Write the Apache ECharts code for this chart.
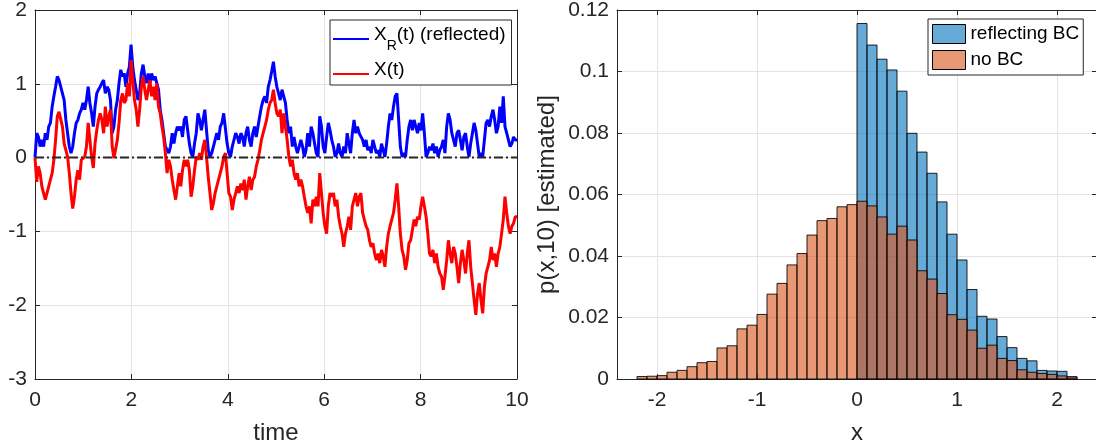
<!DOCTYPE html>
<html>
<head>
<meta charset="utf-8">
<script src="https://cdn.jsdelivr.net/npm/echarts@6/dist/echarts.min.js"></script>
<style>
  html, body { margin: 0; padding: 0; background: #ffffff; }
  #chart { width: 1096px; height: 445px; }
</style>
</head>
<body>
<div id="chart"></div>
<script>
// ---- Path samples on [0, 10], evenly spaced in time ----
const T_END = 10;

// reflected process X_R(t)
const xReflected = [0.00,0.33,0.28,0.15,0.24,0.15,0.33,0.24,0.42,0.47,0.69,0.83,0.96,1.10,1.05,1.05,0.87,0.78,0.51,0.33,0.15,0.06,0.15,0.33,0.47,0.51,0.60,0.65,0.74,0.65,0.78,0.96,0.74,0.60,0.42,0.69,0.87,0.92,0.96,1.01,1.05,0.87,0.96,0.92,0.78,0.33,0.42,0.65,0.78,1.01,1.19,1.10,1.14,0.96,1.14,1.23,1.53,1.23,1.05,0.92,0.78,0.87,1.14,1.26,1.10,1.01,1.14,1.01,1.14,1.05,1.10,1.10,0.92,0.65,0.51,0.33,0.15,0.15,0.06,0.15,0.33,0.19,0.33,0.42,0.37,0.42,0.28,0.51,0.56,0.37,0.19,0.06,0.01,0.19,0.33,0.60,0.51,0.37,0.51,0.65,0.37,0.10,0.01,0.06,0.15,0.24,0.33,0.24,0.42,0.47,0.60,0.62,0.19,0.06,0.01,0.15,0.24,0.33,0.28,0.19,0.33,0.28,0.15,0.33,0.42,0.24,0.15,0.33,0.42,0.28,0.42,0.56,0.69,0.78,0.83,0.74,0.96,1.05,1.17,1.30,1.10,0.96,0.87,0.78,0.92,0.83,0.74,0.51,0.33,0.42,0.15,0.28,0.15,0.06,0.15,0.24,0.15,0.01,0.10,0.33,0.15,0.42,0.33,0.19,0.06,0.01,0.56,0.42,0.15,0.06,0.28,0.47,0.37,0.24,0.15,0.01,0.06,0.19,0.06,0.01,0.15,0.06,0.33,0.19,0.06,0.33,0.51,0.33,0.42,0.33,0.33,0.24,0.15,0.24,0.10,0.15,0.06,0.24,0.15,0.06,0.10,0.01,0.19,0.10,0.01,0.19,0.42,0.60,0.51,0.69,0.83,0.87,0.51,0.15,0.01,0.06,0.01,0.24,0.42,0.51,0.37,0.51,0.42,0.33,0.47,0.37,0.60,0.33,0.01,0.06,0.15,0.10,0.19,0.06,0.15,0.01,0.10,0.15,0.24,0.06,0.42,0.60,0.51,0.33,0.24,0.15,0.33,0.37,0.24,0.10,0.28,0.33,0.15,0.01,0.19,0.33,0.47,0.37,0.19,0.01,0.06,0.01,0.24,0.47,0.51,0.42,0.56,0.65,0.51,0.33,0.42,0.69,0.47,0.83,0.42,0.33,0.24,0.15,0.19,0.28,0.24,0.24];

// free process X(t)
const xFree = [0.00,-0.33,-0.12,-0.21,-0.39,-0.48,-0.57,-0.48,-0.39,-0.30,-0.21,-0.03,0.24,0.56,0.62,0.61,0.42,0.19,0.10,0.01,-0.21,-0.48,-0.69,-0.53,-0.30,-0.17,-0.30,-0.03,-0.03,0.01,0.15,0.47,0.24,0.01,-0.14,0.19,0.37,0.51,0.60,0.51,0.33,0.69,0.42,0.56,0.65,0.15,-0.01,0.01,0.24,0.47,0.78,0.87,0.74,0.78,1.01,0.83,1.32,1.05,0.78,0.65,0.42,0.65,0.96,1.10,0.92,0.78,0.92,1.05,0.83,0.96,0.78,1.01,0.69,0.60,0.42,0.28,0.06,-0.21,-0.03,-0.12,-0.30,-0.44,-0.57,-0.39,-0.21,-0.39,-0.17,-0.03,-0.12,-0.03,-0.17,-0.53,-0.39,-0.17,0.01,-0.03,0.06,-0.03,0.15,0.24,0.01,-0.26,-0.48,-0.71,-0.62,-0.48,-0.39,-0.30,-0.21,-0.12,0.01,0.06,-0.21,-0.48,-0.53,-0.71,-0.57,-0.48,-0.39,-0.48,-0.35,-0.44,-0.30,-0.57,-0.39,-0.26,-0.44,-0.30,-0.26,-0.12,-0.03,0.10,0.24,0.33,0.42,0.51,0.65,0.74,0.78,0.92,0.74,0.60,0.56,0.65,0.33,0.60,0.42,0.24,0.01,-0.12,-0.03,-0.21,-0.30,-0.21,-0.39,-0.30,-0.39,-0.53,-0.66,-0.75,-0.66,-0.89,-0.57,-0.66,-0.53,-0.66,-0.21,-0.48,-0.75,-0.93,-1.03,-0.66,-0.48,-0.53,-0.48,-0.66,-0.57,-0.80,-0.93,-1.03,-1.21,-1.03,-0.93,-0.80,-0.98,-0.66,-0.57,-0.48,-0.66,-0.53,-0.48,-0.75,-0.84,-0.93,-0.98,-1.12,-1.21,-1.16,-1.30,-1.39,-1.30,-1.43,-1.25,-1.34,-1.48,-1.21,-1.03,-0.93,-0.93,-0.75,-0.57,-0.35,-0.66,-1.03,-1.25,-1.34,-1.52,-1.39,-1.16,-1.12,-0.98,-0.84,-0.93,-0.80,-0.84,-0.66,-0.53,-0.66,-0.80,-1.03,-1.30,-1.34,-1.25,-1.43,-1.30,-1.48,-1.57,-1.61,-1.79,-1.61,-1.39,-1.12,-1.30,-1.43,-1.21,-1.30,-1.48,-1.70,-1.43,-1.25,-1.39,-1.57,-1.30,-1.12,-1.48,-1.70,-1.93,-2.13,-1.84,-1.70,-1.93,-2.11,-1.75,-1.57,-1.48,-1.39,-1.21,-1.39,-1.30,-1.48,-1.30,-1.21,-1.03,-0.84,-0.53,-0.75,-0.93,-1.03,-0.93,-0.89,-0.80,-0.80];

// ---- Histogram of x at t = 10 (probability per bin) ----
const binEdges = [-2.2,-2.1,-2.0,-1.9,-1.8,-1.7,-1.6,-1.5,-1.4,-1.3,-1.2,-1.1,-1.0,-0.9,-0.8,-0.7,-0.6,-0.5,-0.4,-0.3,-0.2,-0.1,0,0.1,0.2,0.3,0.4,0.5,0.6,0.7,0.8,0.9,1.0,1.1,1.2,1.3,1.4,1.5,1.6,1.7,1.8,1.9,2.0,2.1,2.2];

// no boundary condition: one value per bin from -2.2 to 2.2
const probNoBC = [0.0008,0.0009,0.0011,0.0022,0.0028,0.0040,0.0053,0.0057,0.0101,0.0108,0.0163,0.0175,0.0210,0.0276,0.0311,0.0371,0.0408,0.0468,0.0515,0.0522,0.0560,0.0567,0.0578,0.0563,0.0527,0.0471,0.0497,0.0452,0.0352,0.0325,0.0278,0.0209,0.0194,0.0159,0.0100,0.0110,0.0067,0.0060,0.0030,0.0022,0.0018,0.0015,0.0010,0.0007];

// reflecting boundary at 0: one value per bin from 0 to 2.2
const probReflecting = [0.1156,0.1086,0.1040,0.1005,0.0936,0.0799,0.0738,0.0669,0.0576,0.0471,0.0387,0.0291,0.0204,0.0195,0.0138,0.0102,0.0067,0.0059,0.0028,0.0026,0.0025,0.0007];

const zeroLevel = [[0, 0], [T_END, 0]];

// ---- build series data ----
const toPath = arr => arr.map((v, i) => [i * T_END / (arr.length - 1), v]);
const firstEdge = binEdges.indexOf(0);
const binsNoBC = probNoBC.map((p, i) => [binEdges[i], binEdges[i + 1], p]);
const binsReflecting = probReflecting.map((p, i) => [binEdges[firstEdge + i], binEdges[firstEdge + i + 1], p]);

const FONT = '"Liberation Sans", Helvetica, Arial, sans-serif';
const INK = '#262626';
const GRIDLINE = '#e4e4e4';

function histBars(params, api) {
  const lo = api.coord([api.value(0), api.value(2)]);
  const hi = api.coord([api.value(1), 0]);
  return {
    type: 'rect',
    shape: { x: lo[0], y: lo[1], width: hi[0] - lo[0], height: hi[1] - lo[1] },
    style: { fill: api.visual('color'), stroke: 'rgba(0,0,0,0.85)', lineWidth: 1 }
  };
}

function mainAxis(extra) {
  return Object.assign({
    type: 'value',
    axisLine: { show: true, onZero: false, lineStyle: { color: INK, width: 1 } },
    axisTick: { show: true, inside: true, length: 5, lineStyle: { color: INK } },
    axisLabel: { color: INK, fontSize: 21, fontFamily: FONT },
    splitLine: { show: true, lineStyle: { color: GRIDLINE, width: 1 } },
    nameTextStyle: { color: INK, fontSize: 24, fontFamily: FONT }
  }, extra);
}

function mirrorAxis(extra) {
  return Object.assign({
    type: 'value',
    axisLine: { show: true, onZero: false, lineStyle: { color: INK, width: 1 } },
    axisTick: { show: true, inside: true, length: 5, lineStyle: { color: INK } },
    axisLabel: { show: false },
    splitLine: { show: false }
  }, extra);
}

const intOnly = v => (Math.abs(v - Math.round(v)) < 1e-9 ? String(Math.round(v)) : '');

const option = {
  animation: false,
  backgroundColor: '#ffffff',
  textStyle: { fontFamily: FONT },
  grid: [
    { left: 35, top: 10, width: 482, height: 369, outerBoundsMode: 'none', containLabel: false },
    { left: 617, top: 10, width: 480, height: 369, outerBoundsMode: 'none', containLabel: false }
  ],
  xAxis: [
    mainAxis({ gridIndex: 0, position: 'bottom', min: 0, max: 10, interval: 2,
      axisLabel: { color: INK, fontSize: 21, fontFamily: FONT, margin: 11 },
      name: 'time', nameLocation: 'middle', nameGap: 42 }),
    mirrorAxis({ gridIndex: 0, position: 'top', min: 0, max: 10, interval: 2 }),
    mainAxis({ gridIndex: 1, position: 'bottom', min: -2.4, max: 2.4,
      axisLabel: { color: INK, fontSize: 21, fontFamily: FONT, margin: 11, formatter: intOnly },
      name: 'x', nameLocation: 'middle', nameGap: 42 }),
    mirrorAxis({ gridIndex: 1, position: 'top', min: -2.4, max: 2.4 })
  ],
  yAxis: [
    mainAxis({ gridIndex: 0, position: 'left', min: -3, max: 2, interval: 1,
      axisLabel: { color: INK, fontSize: 21, fontFamily: FONT, margin: 8 } }),
    mirrorAxis({ gridIndex: 0, position: 'right', min: -3, max: 2, interval: 1 }),
    mainAxis({ gridIndex: 1, position: 'left', min: 0, max: 0.12, interval: 0.02,
      axisLabel: { color: INK, fontSize: 21, fontFamily: FONT, margin: 8 },
      name: 'p(x,10) [estimated]', nameLocation: 'middle', nameGap: 58, nameRotate: 90 }),
    mirrorAxis({ gridIndex: 1, position: 'right', min: 0, max: 0.12, interval: 0.02 })
  ],
  legend: [
    {
      data: [
        { name: 'X_R(t) (reflected)', icon: 'rect' },
        { name: 'X(t)', icon: 'rect' }
      ],
      orient: 'vertical', left: 330, top: 20,
      backgroundColor: '#ffffff', borderColor: INK, borderWidth: 1,
      padding: [5, 6, 6, 3], itemGap: 7, itemWidth: 36, itemHeight: 2,
      formatter: name => name === 'X_R(t) (reflected)'
        ? '{m|X}{s|R}{m|(t) (reflected)}'
        : '{m|' + name + '}',
      textStyle: {
        color: '#000', fontFamily: FONT,
        rich: {
          m: { fontSize: 19, lineHeight: 28, verticalAlign: 'top', fontFamily: FONT, color: '#000' },
          s: { fontSize: 14, lineHeight: 14, verticalAlign: 'bottom', fontFamily: FONT, color: '#000' }
        }
      }
    },
    {
      data: [
        { name: 'reflecting BC', icon: 'rect', itemStyle: { borderColor: '#000', borderWidth: 1 } },
        { name: 'no BC', icon: 'rect', itemStyle: { borderColor: '#000', borderWidth: 1 } }
      ],
      orient: 'vertical', left: 928, top: 19,
      backgroundColor: '#ffffff', borderColor: INK, borderWidth: 1,
      padding: [5, 4, 5, 4], itemGap: 6, itemWidth: 33, itemHeight: 19,
      textStyle: { color: '#000', fontSize: 19, fontFamily: FONT }
    }
  ],
  series: [
    {
      name: 'X_R(t) (reflected)', type: 'line', xAxisIndex: 0, yAxisIndex: 0,
      data: toPath(xReflected), symbol: 'none', showSymbol: false,
      lineStyle: { color: '#0000ff', width: 3 }, itemStyle: { color: '#0000ff' }, z: 2
    },
    {
      name: 'X(t)', type: 'line', xAxisIndex: 0, yAxisIndex: 0,
      data: toPath(xFree), symbol: 'none', showSymbol: false,
      lineStyle: { color: '#ff0000', width: 3 }, itemStyle: { color: '#ff0000' }, z: 3
    },
    {
      name: 'zero', type: 'line', xAxisIndex: 0, yAxisIndex: 0,
      data: zeroLevel, symbol: 'none', silent: true,
      lineStyle: { color: '#262626', width: 2, type: [9, 3, 2, 3] }, z: 4
    },
    {
      name: 'reflecting BC', type: 'custom', xAxisIndex: 2, yAxisIndex: 2,
      data: binsReflecting, renderItem: histBars,
      itemStyle: { color: 'rgba(0,114,189,0.6)' },
      encode: { x: [0, 1], y: 2 }, z: 2
    },
    {
      name: 'no BC', type: 'custom', xAxisIndex: 2, yAxisIndex: 2,
      data: binsNoBC, renderItem: histBars,
      itemStyle: { color: 'rgba(217,83,25,0.6)' },
      encode: { x: [0, 1], y: 2 }, z: 3
    }
  ]
};

const chart = echarts.init(document.getElementById('chart'), null, { renderer: 'canvas' });
chart.setOption(option);
</script>
</body>
</html>
